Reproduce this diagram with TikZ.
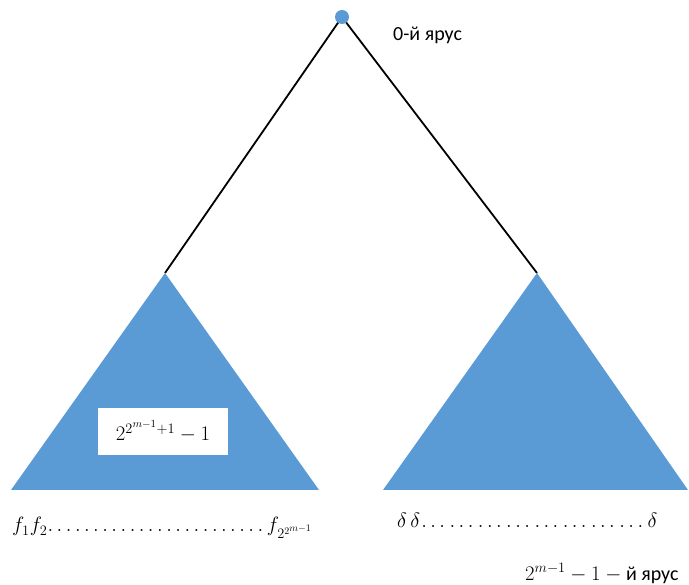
\documentclass[tikz,border=0pt]{standalone}
\usepackage{fontspec}
\setmainfont{Carlito}
\usepackage{amsmath}
\definecolor{tri}{RGB}{91,155,213}
\newcommand{\dotrow}[1]{\hbox to #1{\xleaders\hbox{$\ldots$\,}\hfill}}
\begin{document}
\begin{tikzpicture}[x=1pt,y=-1pt,
  conn/.style={draw=black,line width=1.8pt},
  trifill/.style={fill=tri},
  lbl/.style={inner sep=0pt,font=\fontsize{20}{24}\selectfont},
  mlbl/.style={inner sep=0pt,font=\fontsize{20}{24}\selectfont}]
\useasboundingbox (0,0) rectangle (689,585);
% apexes and base corners
\coordinate (lapex) at (165,273);
\coordinate (lbl1) at (11,490);
\coordinate (lbr) at (319,490);
\coordinate (rapex) at (537,273);
\coordinate (rbl) at (383,490);
\coordinate (rbr) at (688,490);
% connectors
\draw[conn] (342,17) coordinate (rootc) -- (lapex);
\draw[conn] (rootc) -- (rapex);
% triangles
\fill[trifill] (lapex) -- (lbl1) -- (lbr) -- cycle;
\fill[trifill] (rapex) -- (rbl) -- (rbr) -- cycle;
% root
\node[circle,fill=tri,minimum size=14pt,inner sep=0pt] (root) at (rootc) {};
% white box
\node[fill=white,minimum width=130pt,minimum height=47pt,inner sep=0pt,
      font=\fontsize{22}{26}\selectfont] (box) at (163,431.5) {$2^{2^{m-1}+1}-1$};
% labels
\node[lbl,anchor=west] (lvl0) at (393,35) {0-й ярус};
\node[mlbl,anchor=base west] (fl) at (12,532)
  {$f_1f_2$\dotrow{220pt}$f_{2^{2^{m-1}}}$};
\node[mlbl,anchor=base west] (dl) at (397,528)
  {$\delta\,\delta$\dotrow{228pt}$\delta$};
\node[mlbl,anchor=base west] (lvlm) at (525,580)
  {$2^{m-1}-1-{}$й ярус};
\end{tikzpicture}
\end{document}
